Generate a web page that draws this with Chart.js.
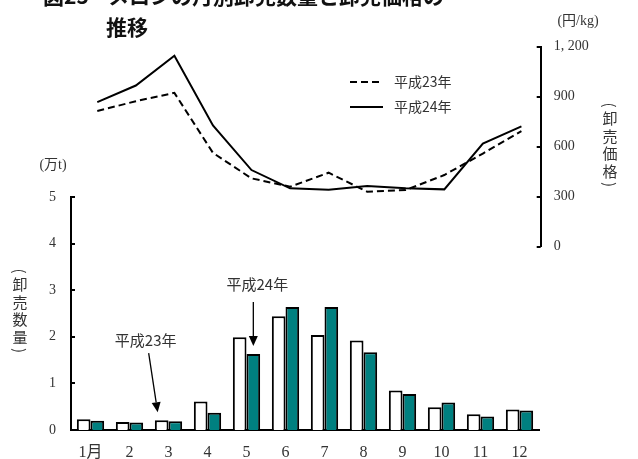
<!DOCTYPE html>
<html><head><meta charset="utf-8">
<script src="https://cdn.jsdelivr.net/npm/chart.js@4/dist/chart.umd.min.js"></script>
<style>
html,body{margin:0;padding:0;background:#fff;}
#wrap{position:relative;width:638px;height:459px;overflow:hidden;}
canvas{position:absolute;left:0;top:0;}
</style></head><body>
<div id="wrap"><canvas id="bar" width="638" height="459"></canvas><canvas id="line" width="638" height="459"></canvas></div>
<script>
const months = ['1月','2','3','4','5','6','7','8','9','10','11','12'];
const qty23 = [0.23,0.17,0.21,0.61,1.99,2.44,2.04,1.92,0.85,0.49,0.34,0.44];
const qty24 = [0.20,0.16,0.19,0.37,1.63,2.64,2.64,1.67,0.77,0.59,0.29,0.42];
const price23 = [814,873,923,563,410,360,444,330,340,430,559,694];
const price24 = [867,967,1146,728,460,350,342,364,350,344,619,722];
const seriesNames = ['平成23年','平成24年'];
const qtyMax = 5, qtyStep = 1;
const priceMax = 1200, priceStep = 300;

const SERIF = '"Liberation Serif","Noto Sans CJK JP",serif';
const CJK = '"Noto Sans CJK JP",sans-serif';
const TXT = '#333';

function inwardTicks(ctx, scale, dir, len){
  const x0 = dir > 0 ? scale.right : scale.left;
  ctx.save(); ctx.strokeStyle = '#000'; ctx.lineWidth = 2;
  scale.ticks.forEach(t => {
    const y = Math.round(scale.getPixelForValue(t.value));
    ctx.beginPath(); ctx.moveTo(x0, y); ctx.lineTo(x0 + dir*len, y); ctx.stroke();
  });
  ctx.restore();
}
// vertical label: rotated parentheses around stacked characters
function vText(ctx, str, x, y0, step, font){
  ctx.save(); ctx.font = font; ctx.fillStyle = TXT; ctx.textAlign = 'center'; ctx.textBaseline = 'middle';
  const chars = [...str];
  // opening paren
  ctx.save(); ctx.translate(x, y0 + 4); ctx.rotate(Math.PI/2); ctx.fillText('(', 0, 0); ctx.restore();
  chars.forEach((c,i)=> ctx.fillText(c, x, y0 + (i+1)*step));
  ctx.save(); ctx.translate(x, y0 + (chars.length+1)*step - 4); ctx.rotate(Math.PI/2); ctx.fillText(')', 0, 0); ctx.restore();
  ctx.restore();
}
function arrow(ctx, x1, y1, x2, y2){
  const a = Math.atan2(y2-y1, x2-x1), L = 10, W = 4.5;
  ctx.save(); ctx.strokeStyle = '#000'; ctx.fillStyle = '#000'; ctx.lineWidth = 1.3;
  const bx = x2 - L*Math.cos(a), by = y2 - L*Math.sin(a);
  ctx.beginPath(); ctx.moveTo(x1,y1); ctx.lineTo(bx,by); ctx.stroke();
  ctx.beginPath(); ctx.moveTo(x2,y2);
  ctx.lineTo(bx + W*Math.sin(a), by - W*Math.cos(a));
  ctx.lineTo(bx - W*Math.sin(a), by + W*Math.cos(a));
  ctx.closePath(); ctx.fill();
  ctx.restore();
}

const barDeco = {
  id:'barDeco',
  afterDraw(chart){
    const ctx = chart.ctx;
    inwardTicks(ctx, chart.scales.y, 1, 4);
    // title
    ctx.save(); ctx.fillStyle = '#111'; ctx.font = 'bold 21px ' + CJK; ctx.textBaseline = 'alphabetic'; ctx.textAlign = 'left';
    ctx.fillText('図25', 43, 4);
    ctx.fillText('メロンの月別卸売数量と卸売価格の', 108, 4);
    ctx.fillText('推移', 106, 35);
    ctx.restore();
    // unit + axis title
    ctx.save(); ctx.fillStyle = TXT; ctx.font = '14px ' + SERIF; ctx.textAlign = 'center'; ctx.textBaseline = 'middle';
    ctx.fillText('(万t)', 53, 165);
    ctx.restore();
    vText(ctx, '卸売数量', 20, 267, 17.5, '15px ' + CJK);
    // annotations
    const b23 = chart.getDatasetMeta(0).data[2];
    const t23x = b23.x - 4, t23y = b23.y - 8;
    arrow(ctx, t23x - 9, t23y - 59, t23x, t23y);
    const b24 = chart.getDatasetMeta(1).data[4];
    const t24x = b24.x, t24y = b24.y - 8;
    arrow(ctx, t24x, t24y - 44, t24x, t24y);
    ctx.save(); ctx.fillStyle = TXT; ctx.font = '15px ' + CJK; ctx.textAlign = 'center'; ctx.textBaseline = 'middle';
    ctx.fillText(chart.data.datasets[0].label, t23x - 12, t23y - 72);
    ctx.fillText(chart.data.datasets[1].label, t24x + 4, t24y - 62);
    ctx.restore();
  }
};

new Chart(document.getElementById('bar'), {
  type:'bar',
  data:{labels:months, datasets:[
    {label:seriesNames[0], data:qty23, backgroundColor:'#ffffff', borderColor:'#000', borderWidth:2, categoryPercentage:0.7, barPercentage:1},
    {label:seriesNames[1], data:qty24, backgroundColor:'#008080', borderColor:'#000', borderWidth:2, categoryPercentage:0.7, barPercentage:1}
  ]},
  options:{
    responsive:false, animation:false, devicePixelRatio:1,
    layout:{padding:{left:0,right:99,top:197,bottom:0}},
    plugins:{legend:{display:false}, tooltip:{enabled:false}},
    scales:{
      x:{offset:true, grid:{display:false, drawTicks:false}, border:{display:true,color:'#000',width:2},
         ticks:{color:TXT, font:{family:SERIF, size:16}, padding:13, maxRotation:0, autoSkip:false},
         afterFit:s=>{s.height=29;}},
      y:{min:0, max:qtyMax, grid:{display:false, drawTicks:false}, border:{display:true,color:'#000',width:2},
         ticks:{stepSize:qtyStep, color:TXT, font:{family:SERIF, size:14}, padding:15},
         afterFit:s=>{s.width=71;}}
    }
  },
  plugins:[barDeco]
});

const lineDeco = {
  id:'lineDeco',
  afterDraw(chart){
    const ctx = chart.ctx;
    inwardTicks(ctx, chart.scales.y, -1, 4);
    ctx.save(); ctx.fillStyle = TXT; ctx.font = '14px ' + SERIF; ctx.textAlign = 'center'; ctx.textBaseline = 'middle';
    ctx.fillText('(円/kg)', 578, 21);
    ctx.restore();
    vText(ctx, '卸売価格', 610, 101, 17.5, '15px ' + CJK);
    // legend
    const ds = chart.data.datasets;
    const rows = [82, 107];
    ds.forEach((d,i)=>{
      ctx.save(); ctx.strokeStyle = d.borderColor; ctx.lineWidth = d.borderWidth; ctx.setLineDash(d.borderDash || []);
      ctx.beginPath(); ctx.moveTo(350, rows[i]); ctx.lineTo(383, rows[i]); ctx.stroke();
      ctx.restore();
      ctx.save(); ctx.fillStyle = TXT; ctx.font = '14px ' + CJK; ctx.textAlign = 'left'; ctx.textBaseline = 'middle';
      ctx.fillText(d.label, 394, rows[i]);
      ctx.restore();
    });
  }
};

new Chart(document.getElementById('line'), {
  type:'line',
  data:{labels:months, datasets:[
    {label:seriesNames[0], data:price23, borderColor:'#000', borderWidth:2, borderDash:[7,4], pointRadius:0, tension:0, fill:false},
    {label:seriesNames[1], data:price24, borderColor:'#000', borderWidth:2, pointRadius:0, tension:0, fill:false}
  ]},
  options:{
    responsive:false, animation:false, devicePixelRatio:1,
    layout:{padding:{left:78,right:0,top:46.7,bottom:212.3}},
    plugins:{legend:{display:false}, tooltip:{enabled:false}},
    scales:{
      x:{display:false, offset:true},
      y:{position:'right', min:0, max:priceMax, grid:{display:false, drawTicks:false}, border:{display:true,color:'#000',width:2},
         ticks:{stepSize:priceStep, color:TXT, font:{family:SERIF, size:14}, padding:13,
                callback:v=> v.toLocaleString('en-US').replace(',', ', ')},
         afterFit:s=>{s.width=97.3;}}
    }
  },
  plugins:[lineDeco]
});
</script>
</body></html>
